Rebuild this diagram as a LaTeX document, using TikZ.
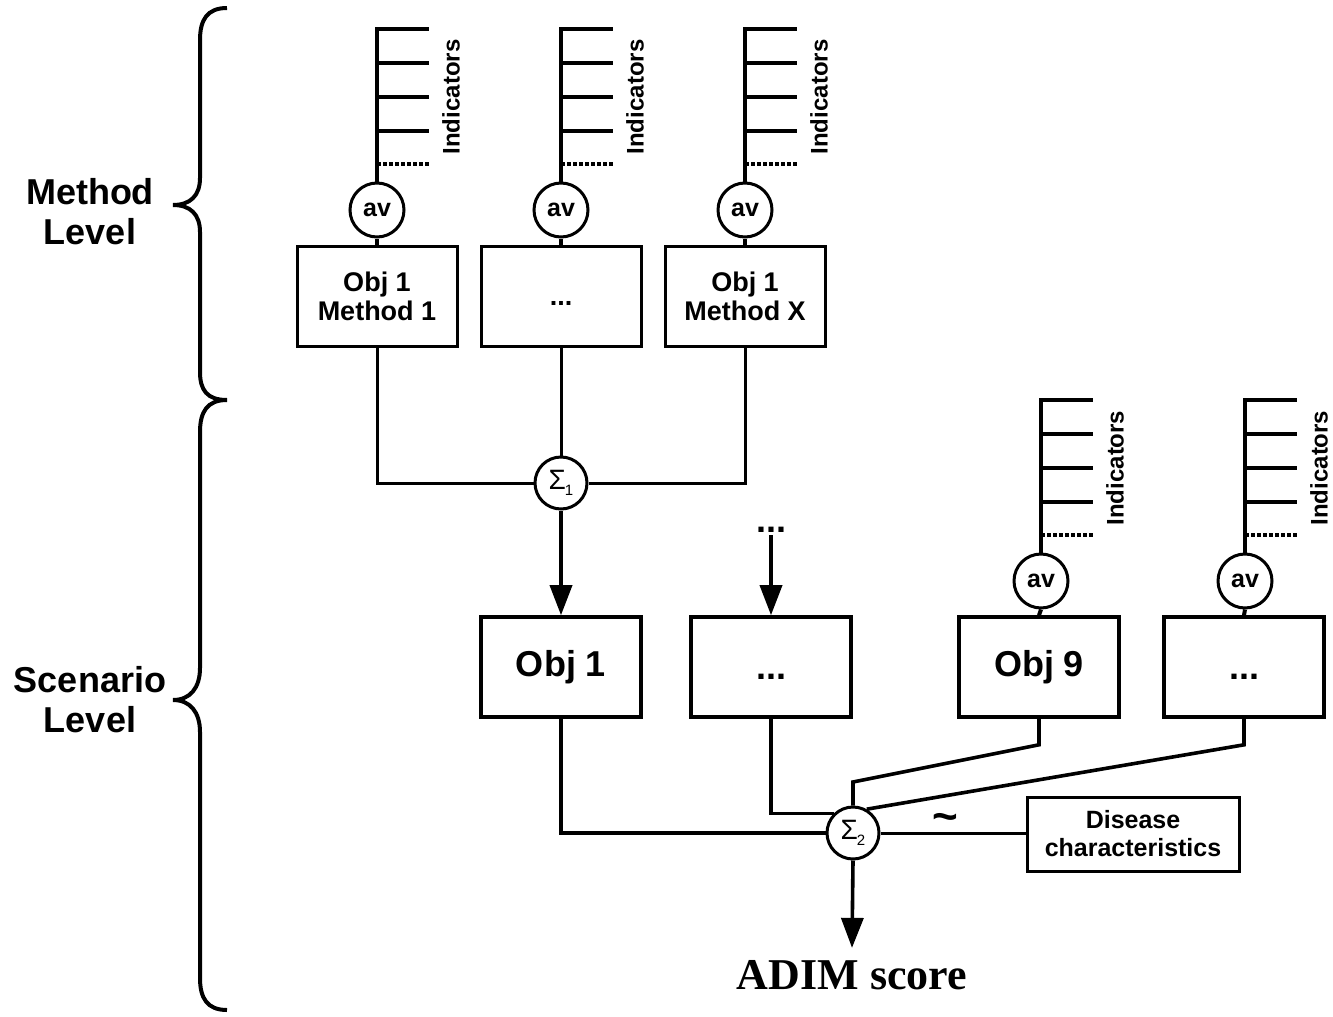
\documentclass[tikz,border=0pt]{standalone}
\usepackage{fontspec}
\setmainfont{Liberation Sans}
\newfontfamily\serifb{Liberation Serif}
\usetikzlibrary{arrows.meta}
\begin{document}
\begin{tikzpicture}[x=0.5pt,y=-0.5pt,
 obox/.style={draw,line width=1.5pt,minimum width=80pt,minimum height=50pt,inner sep=0pt,align=center,font=\fontsize{13.5}{14.5}\selectfont\bfseries},
 sbox/.style={draw,line width=1.8pt,minimum width=80pt,minimum height=50pt,inner sep=0pt,align=center,font=\fontsize{18}{20}\selectfont\bfseries},
 dbox/.style={draw,line width=1.5pt,minimum width=106pt,minimum height=37pt,inner sep=0pt,align=center,font=\fontsize{12.5}{14}\selectfont\bfseries},
 avc/.style={circle,draw,line width=1.5pt,minimum size=27pt,inner sep=0pt,font=\fontsize{12.5}{13}\selectfont\bfseries},
 sigc/.style={circle,draw,line width=1.5pt,minimum size=26pt,inner sep=0pt,font=\fontsize{13}{13}\selectfont},
 ind/.style={line width=2pt},
 indd/.style={line width=2pt,dash pattern=on 2pt off 1pt},
 conn/.style={line width=1.5pt},
 sconn/.style={line width=1.8pt},
 arr/.style={line width=1.8pt,-{Triangle[length=15pt,width=11pt]}},
 lvl/.style={align=center,font=\fontsize{18}{20}\selectfont\bfseries},
 indlab/.style={rotate=90,font=\fontsize{12}{12}\selectfont\bfseries},
 brace/.style={line width=2pt}
]
\useasboundingbox (0,0) rectangle (1333,1017);

% braces
\draw[brace] (227,8) .. controls (207,8) and (200,20) .. (200,40) -- (200,178)
  .. controls (200,196) and (190,205) .. (173,205)
  .. controls (190,205) and (200,214) .. (200,232) -- (200,372)
  .. controls (200,390) and (207,400) .. (227,400);
\draw[brace] (227,400) .. controls (207,400) and (200,412) .. (200,432) -- (200,668)
  .. controls (200,688) and (190,700) .. (173,700)
  .. controls (190,700) and (200,712) .. (200,732) -- (200,978)
  .. controls (200,998) and (207,1010) .. (227,1010);

\node[lvl] (ml) at (90,212) {Method\\Level};
\node[lvl] (sl) at (90,700) {Scenario\\Level};

% method level boxes
\node[obox] (m1) at (377,296) {Obj 1\\Method 1};
\node[obox] (m2) at (561,296) {\raisebox{0pt}[9pt][0pt]{...}};
\node[obox] (m3) at (745,296) {Obj 1\\Method X};

% scenario level boxes
\node[sbox] (s1) at (561,667) {Obj 1};
\node[sbox] (s2) at (771,667) {\raisebox{0pt}[12pt][0pt]{...}};
\node[sbox] (s3) at (1039,667) {Obj 9};
\node[sbox] (s4) at (1244,667) {\raisebox{0pt}[12pt][0pt]{...}};

% av circles with indicators
\foreach \nm/\X/\Y in {a1/377/210,a2/561/210,a3/745/210,a4/1041/581,a5/1245/581}{
  \node[avc] (\nm) at (\X,\Y) {av};
  \draw[ind] (\nm.north) -- ++(0,-153) -- ++(52,0);
  \draw[ind] (\nm.north) ++(0,-119) -- ++(52,0);
  \draw[ind] (\nm.north) ++(0,-85) -- ++(52,0);
  \draw[ind] (\nm.north) ++(0,-51) -- ++(52,0);
  \draw[indd] (\nm.north) ++(0,-18) -- ++(52,0);
  \node[indlab] (\nm lab) at ({\X+74},{\Y-113}) {Indicators};
}
\draw[ind] (a1.south) -- (m1.north);
\draw[ind] (a2.south) -- (m2.north);
\draw[ind] (a3.south) -- (m3.north);
\draw[ind] (a4.south) -- (s3.north);
\draw[ind] (a5.south) -- (s4.north);

% sigma 1
\node[sigc] (sig1) at (561,483) {\fontsize{14}{14}\selectfont Σ\kern-0.5pt\raisebox{-0.4ex}{\fontsize{7.5}{8}\selectfont 1}};
\draw[conn] (m1.south) |- (sig1.west);
\draw[conn] (m3.south) |- (sig1.east);
\draw[conn] (m2.south) -- (sig1.north);
\draw[arr] (sig1.south) -- (s1.north);

\node[font=\fontsize{18}{18}\selectfont\bfseries,inner sep=1pt] (dots) at (771,530) {...};
\draw[arr] (dots.south) -- (s2.north);

% sigma 2
\node[sigc] (sig2) at (853,833) {\fontsize{14}{14}\selectfont Σ\kern-0.5pt\raisebox{-0.4ex}{\fontsize{7.5}{8}\selectfont 2}};
\coordinate (j3) at (853,782);
\draw[sconn] (s1.south) |- (sig2.west);
\draw[sconn] (s2.south) |- (sig2.north west);
\draw[sconn] (s3.south) -- ++(0,26) -- (j3) -- (sig2.north);
\draw[sconn] (s4.south) -- ++(0,26) -- (sig2.60);

\node[dbox] (dis) at (1133,834) {Disease\\characteristics};
\draw[conn] (sig2.east) -- node[above,font=\fontsize{22}{22}\selectfont\bfseries,inner sep=0pt,xshift=-4pt]{\char`\~} (dis.west|-sig2.east);

\node[font=\serifb\fontsize{22}{22}\selectfont\bfseries,inner sep=6pt] (adim) at (852,975) {ADIM score};
\draw[arr] (sig2.south) -- (adim.north);
\end{tikzpicture}
\end{document}
